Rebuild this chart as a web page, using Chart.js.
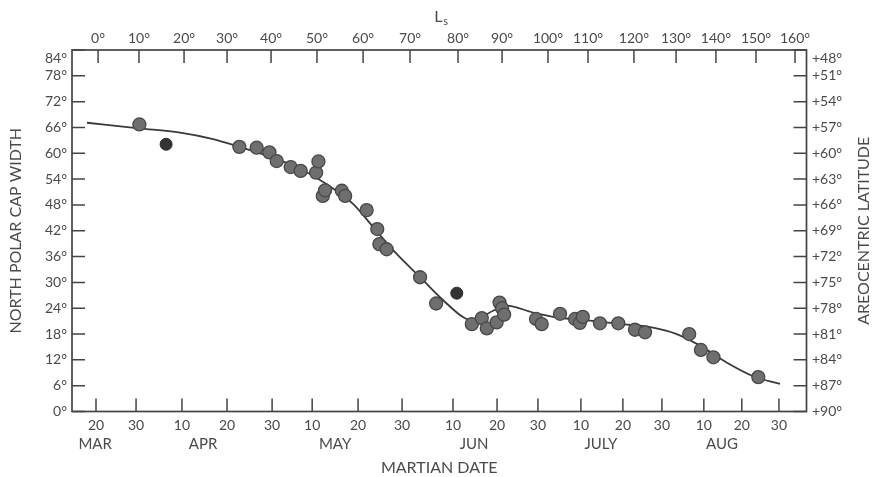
<!DOCTYPE html>
<html>
<head>
<meta charset="utf-8">
<script src="https://cdn.jsdelivr.net/npm/chart.js@4.4.1/dist/chart.umd.min.js"></script>
<style>
  html, body { margin: 0; padding: 0; background: #fff; }
  #wrap { width: 873px; height: 477px; position: relative; }
</style>
</head>
<body>
<div id="wrap"><canvas id="chart"></canvas></div>
<script>
// ============================================================
// North polar cap width vs. Martian date / Ls
// x values are sols after the northern vernal equinox (Ls 0)
// ============================================================

// --- top axis: solar longitude Ls ---
const lsTickSols   = [0, 19.6, 41.2, 61.8, 82.9, 104.9, 127.0, 149.5, 172.5, 193.6, 215.6, 234.8, 256.8, 277.0, 296.1, 315.3, 334.0];
const lsTickLabels = ["0°","10°","20°","30°","40°","50°","60°","70°","80°","90°","100°","110°","120°","130°","140°","150°","160°"];

// --- bottom axis: Martian date ---
const dateTickSols   = [-1.0, 18.2, 40.2, 61.8, 83.4, 102.6, 124.6, 145.7, 170.1, 191.2, 210.8, 231.4, 251.5, 270.2, 290.3, 308.5, 326.3];
const dateTickLabels = ["20","30","10","20","30","10","20","30","10","20","30","10","20","30","10","20","30"];
const monthSols   = [-1.4, 50.3, 113.6, 180.2, 241.0, 299.0];
const monthLabels = ["MAR","APR","MAY","JUN","JULY","AUG"];

// --- left axis (cap width) / right axis (areocentric latitude) ---
const widthTicks = [0, 6, 12, 18, 24, 30, 36, 42, 48, 54, 60, 66, 72, 78, 84];

// --- observations ---
const capSol   = [19.8, 67.7, 76.0, 82.1, 85.6, 92.3, 97.1, 104.5, 105.6, 107.7, 108.8, 116.8, 118.4, 128.7, 133.8, 134.8, 138.3, 154.3, 162.0,
                  179.1, 183.9, 186.3, 191.0, 192.4, 193.6, 194.6, 209.9, 212.6, 221.4, 228.6, 230.9, 232.3, 240.5, 249.3, 257.3, 262.1, 283.3, 288.9, 294.9, 316.4];
const capWidth = [66.7, 61.5, 61.3, 60.2, 58.2, 56.8, 55.9, 55.5, 58.1, 50.1, 51.4, 51.3, 50.1, 46.8, 42.4, 38.9, 37.7, 31.2, 25.1,
                  20.3, 21.7, 19.3, 20.7, 25.3, 24.0, 22.5, 21.5, 20.3, 22.7, 21.5, 20.6, 22.0, 20.5, 20.5, 19.0, 18.4, 18.0, 14.3, 12.6, 8.0];

// two darker observations
const darkSol   = [32.6, 171.9];
const darkWidth = [62.1, 27.5];

// --- smoothed curve ---
const fitSol   = [-5.3, 19.6, 39.3, 55.1, 67.6, 85.3, 96.8, 109.6, 122.3, 131.9, 143.1, 154.3, 165.5, 175.0, 179.7, 189.3, 195.8,
                  208.4, 219.8, 235.7, 251.6, 265.9, 277.3, 288.5, 301.2, 314.0, 326.8];
const fitWidth = [67.1, 65.8, 64.8, 63.3, 61.5, 58.7, 56.4, 52.8, 48.2, 42.8, 36.6, 31.2, 25.8, 21.9, 21.1, 23.4, 24.6,
                  23.0, 21.9, 21.1, 20.3, 19.5, 18.0, 15.3, 11.4, 8.2, 6.4];

const INK  = "#444";
const TEXT = "#4a4a4a";
const TICK = 13;
const X_MIN = -12.5, X_MAX = 339.5;

const pts = (xs, ys) => xs.map((x, i) => ({ x, y: ys[i] }));

/* =========================
   FRAME, INNER TICKS, EXTRA TITLES
========================= */
const frameTicks = {
  id: "frameTicks",
  afterDraw(chart) {
    const { ctx, chartArea: a, scales } = chart;
    ctx.save();
    ctx.strokeStyle = INK;
    ctx.lineWidth = 1.7;
    ctx.strokeRect(a.left, a.top, a.right - a.left, a.bottom - a.top);

    ctx.lineWidth = 1.5;
    ctx.beginPath();
    scales.xTop.ticks.forEach((t) => {
      const p = scales.xTop.getPixelForValue(t.value);
      ctx.moveTo(p, a.top); ctx.lineTo(p, a.top + TICK);
    });
    scales.x.ticks.forEach((t) => {
      const p = scales.x.getPixelForValue(t.value);
      ctx.moveTo(p, a.bottom); ctx.lineTo(p, a.bottom - TICK);
    });
    scales.y.ticks.forEach((t) => {
      const p = scales.y.getPixelForValue(t.value);
      ctx.moveTo(a.left, p); ctx.lineTo(a.left + TICK, p);
    });
    scales.yRight.ticks.forEach((t) => {
      const p = scales.yRight.getPixelForValue(t.value);
      ctx.moveTo(a.right, p); ctx.lineTo(a.right - TICK, p);
    });
    ctx.stroke();

    // L with subscript s
    ctx.fillStyle = TEXT;
    ctx.textBaseline = "alphabetic";
    ctx.textAlign = "left";
    const cx = (a.left + a.right) / 2 - 5;
    ctx.font = "16px Lato";
    ctx.fillText("L", cx, 22);
    ctx.font = "11px Lato";
    ctx.fillText("s", cx + 9, 25);

    // right title, reading upward
    ctx.font = "16px Lato";
    ctx.textAlign = "center";
    ctx.textBaseline = "middle";
    ctx.translate(864, (a.top + a.bottom) / 2);
    ctx.rotate(-Math.PI / 2);
    ctx.fillText("AREOCENTRIC LATITUDE", 0, 0);
    ctx.restore();
  },
};

/* =========================
   CHART
========================= */
Chart.defaults.font.family = "Lato, 'Open Sans', sans-serif";
Chart.defaults.color = TEXT;

const tickFont = { size: 14 };

new Chart(document.getElementById("chart").getContext("2d"), {
  type: "scatter",
  data: {
    datasets: [
      {
        data: pts(darkSol, darkWidth),
        pointRadius: 6,
        backgroundColor: "#333",
        borderColor: "#2b2b2b",
        borderWidth: 1,
      },
      {
        data: pts(capSol, capWidth),
        pointRadius: 6.5,
        backgroundColor: "#6f6f6f",
        borderColor: "#484848",
        borderWidth: 1.3,
      },
      {
        type: "line",
        data: pts(fitSol, fitWidth),
        borderColor: "#3a3a3a",
        borderWidth: 1.8,
        pointRadius: 0,
        fill: false,
        cubicInterpolationMode: "monotone",
      },
    ],
  },
  options: {
    responsive: true,
    maintainAspectRatio: false,
    animation: false,
    layout: { padding: 0 },
    plugins: { legend: { display: false }, tooltip: { enabled: false } },
    scales: {
      x: {
        type: "linear", position: "bottom", weight: 1,
        min: X_MIN, max: X_MAX,
        afterBuildTicks: (s) => { s.ticks = dateTickSols.map((v) => ({ value: v })); },
        afterFit: (s) => { s.height = 24; },
        ticks: { callback: (v, i) => dateTickLabels[i], autoSkip: false, maxRotation: 0, minRotation: 0, padding: 6, font: tickFont },
        grid: { display: false, drawTicks: false },
        border: { display: false },
      },
      xMonth: {
        type: "linear", position: "bottom", weight: 2,
        min: X_MIN, max: X_MAX,
        afterBuildTicks: (s) => { s.ticks = monthSols.map((v) => ({ value: v })); },
        afterFit: (s) => { s.height = 41.5; },
        ticks: { callback: (v, i) => monthLabels[i], autoSkip: false, maxRotation: 0, minRotation: 0, padding: 0, font: { size: 15 } },
        grid: { display: false, drawTicks: false },
        border: { display: false },
        title: { display: true, text: "MARTIAN DATE", font: { size: 16 }, padding: { top: 0, bottom: 0 } },
      },
      xTop: {
        type: "linear", position: "top",
        min: X_MIN, max: X_MAX,
        afterBuildTicks: (s) => { s.ticks = lsTickSols.map((v) => ({ value: v })); },
        afterFit: (s) => { s.height = 50; },
        ticks: { callback: (v, i) => lsTickLabels[i], autoSkip: false, maxRotation: 0, minRotation: 0, padding: 3, font: tickFont },
        grid: { display: false, drawTicks: false },
        border: { display: false },
      },
      y: {
        type: "linear", position: "left",
        min: 0, max: 84,
        afterBuildTicks: (s) => { s.ticks = widthTicks.map((v) => ({ value: v })); },
        afterFit: (s) => { s.width = 72; },
        ticks: { callback: (v) => (v === 84 ? ["", "84°"] : v + "°"), autoSkip: false, padding: 5, font: tickFont },
        grid: { display: false, drawTicks: false },
        border: { display: false },
        title: { display: true, text: "NORTH POLAR CAP WIDTH", font: { size: 16 }, padding: { top: 6, bottom: 6 } },
      },
      yRight: {
        type: "linear", position: "right",
        min: 0, max: 84,
        afterBuildTicks: (s) => { s.ticks = widthTicks.map((v) => ({ value: v })); },
        afterFit: (s) => { s.width = 66.5; },
        ticks: {
          callback: (v) => { const t = "+" + (90 - v / 2) + "°"; return v === 84 ? ["", t] : t; },
          autoSkip: false, padding: 5.5, font: tickFont,
        },
        grid: { display: false, drawTicks: false },
        border: { display: false },
      },
    },
  },
  plugins: [frameTicks],
});
</script>
</body>
</html>
